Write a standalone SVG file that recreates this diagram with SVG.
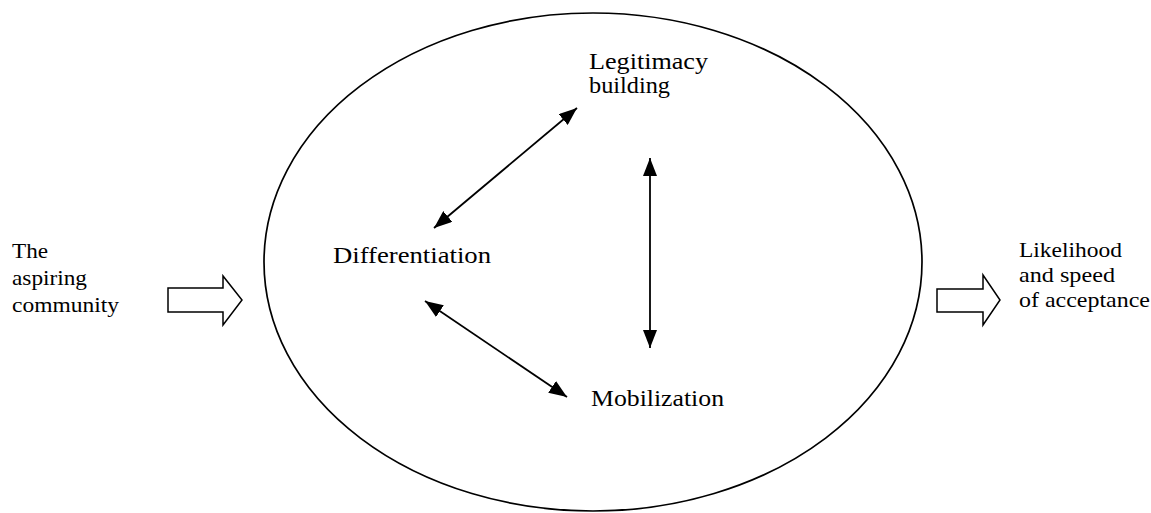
<svg xmlns="http://www.w3.org/2000/svg" width="1151" height="513" viewBox="0 0 1151 513">
  <style>
    .in { font-size: 24px; }
    .out { font-size: 22px; }
    .conn { stroke: #000; stroke-width: 1.8; fill: none; marker-start: url(#ah); marker-end: url(#ah); }
    .block { fill: #fff; stroke: #000; stroke-width: 1.5; stroke-linejoin: miter; }
  </style>
  <defs>
    <marker id="ah" viewBox="0 0 18 14" refX="18" refY="7" markerWidth="18" markerHeight="14" markerUnits="userSpaceOnUse" orient="auto-start-reverse">
      <path d="M0,0 L18,7 L0,14 z" fill="#000"/>
    </marker>
  </defs>
  <rect width="1151" height="513" fill="#fff"/>

  <g id="boundary">
    <ellipse cx="593" cy="262" rx="329" ry="249" fill="none" stroke="#000" stroke-width="1.7"/>
  </g>

  <g id="input" font-family="'Liberation Serif', serif" fill="#000">
    <text class="out" x="12" y="258" textLength="36" lengthAdjust="spacingAndGlyphs">The</text>
    <text class="out" x="12" y="285" textLength="75" lengthAdjust="spacingAndGlyphs">aspiring</text>
    <text class="out" x="12" y="312" textLength="107" lengthAdjust="spacingAndGlyphs">community</text>
    <polygon class="block" points="168,288 223,288 223,276 242,300 223,325 223,312 168,312"/>
  </g>

  <g id="output" font-family="'Liberation Serif', serif" fill="#000">
    <polygon class="block" points="937,289 983,289 983,275 1000,300 983,325 983,312 937,312"/>
    <text class="out" x="1019" y="257" textLength="103" lengthAdjust="spacingAndGlyphs">Likelihood</text>
    <text class="out" x="1019" y="282" textLength="96" lengthAdjust="spacingAndGlyphs">and speed</text>
    <text class="out" x="1019" y="307" textLength="131" lengthAdjust="spacingAndGlyphs">of acceptance</text>
  </g>

  <g id="legitimacy" font-family="'Liberation Serif', serif" fill="#000">
    <text class="in" x="589" y="69" textLength="119" lengthAdjust="spacingAndGlyphs">Legitimacy</text>
    <text class="in" x="589" y="93" textLength="81" lengthAdjust="spacingAndGlyphs">building</text>
  </g>

  <g id="differentiation" font-family="'Liberation Serif', serif" fill="#000">
    <text class="in" x="333" y="263" textLength="158" lengthAdjust="spacingAndGlyphs">Differentiation</text>
  </g>

  <g id="mobilization" font-family="'Liberation Serif', serif" fill="#000">
    <text class="in" x="591" y="406" textLength="133" lengthAdjust="spacingAndGlyphs">Mobilization</text>
  </g>

  <g id="connectors">
    <line class="conn" x1="434" y1="228" x2="577" y2="108"/>
    <line class="conn" x1="425" y1="301" x2="567" y2="397"/>
    <line class="conn" x1="650" y1="158" x2="650" y2="348"/>
  </g>
</svg>
